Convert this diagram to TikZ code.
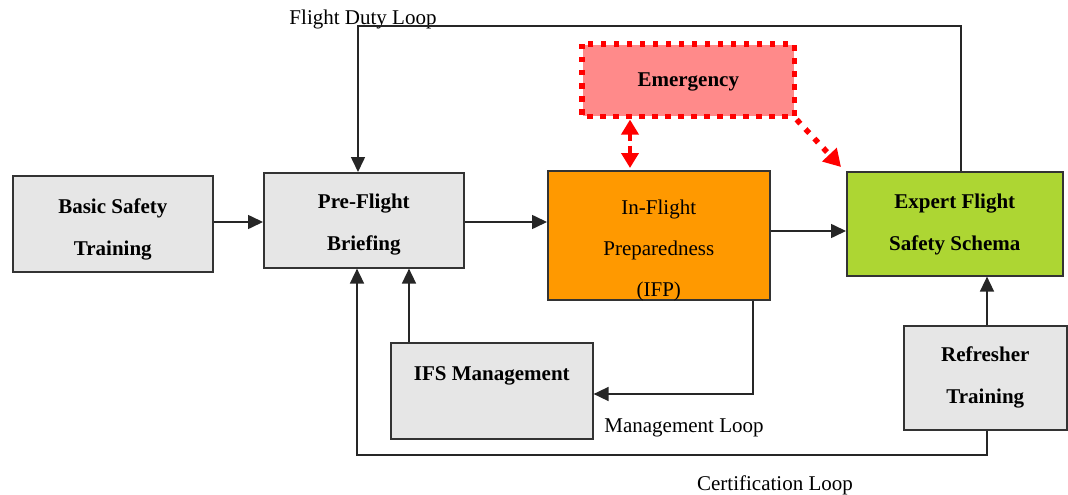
\documentclass[tikz,border=0pt]{standalone}
\usepackage{fontspec}
\setmainfont{Liberation Serif}
\usetikzlibrary{arrows.meta}
\definecolor{boxgray}{HTML}{E6E6E6}
\definecolor{boxline}{HTML}{333333}
\definecolor{ifporange}{HTML}{FF9900}
\definecolor{efsgreen}{HTML}{ADD633}
\definecolor{emgpink}{HTML}{FF8A8A}
\definecolor{emgred}{HTML}{FF0000}
\begin{document}
\begin{tikzpicture}[x=1pt,y=-1pt,
  box/.style={draw=boxline, line width=1.6pt, anchor=north west, inner sep=0pt},
  lbl/.style={font=\fontsize{21}{42}\selectfont\bfseries, align=center, inner sep=0pt},
  rlbl/.style={font=\fontsize{21}{41}\selectfont, align=center, inner sep=0pt},
  looplbl/.style={font=\fontsize{21}{25}\selectfont, anchor=base, inner sep=0pt},
  arr/.style={line width=1.6pt, draw=black!85, -{Triangle[length=15pt,width=14pt]}},
  emdash/.style={draw=emgred, line width=4.5pt, dash pattern=on 7pt off 5pt},
  emdot/.style={draw=emgred, line width=5.5pt, dash pattern=on 5.5pt off 7.5pt}
]
\useasboundingbox (0,0) rectangle (1068,495);

% boxes
\node[box, fill=boxgray, minimum width=200pt, minimum height=96pt] (bst) at (12,175) {};
\node[box, fill=boxgray, minimum width=200pt, minimum height=95pt] (pfb) at (263,172) {};
\node[box, fill=ifporange, minimum width=222pt, minimum height=129pt] (ifp) at (547,170) {};
\node[box, fill=efsgreen, minimum width=216pt, minimum height=104pt] (efs) at (846,171) {};
\node[box, draw=none, fill=emgpink, minimum width=211pt, minimum height=71pt] (emg) at (582,44) {};
\draw[emdot] (emg.north west) rectangle (emg.south east);
\node[box, fill=boxgray, minimum width=202pt, minimum height=96pt] (ifs) at (390,342) {};
\node[box, fill=boxgray, minimum width=163pt, minimum height=104pt] (rft) at (903,325) {};

% box texts
\node[lbl, yshift=-6pt] (bstt) at (bst.center) {Basic Safety\\Training};
\node[lbl, yshift=-4.5pt] (pfbt) at (pfb.center) {Pre-Flight\\Briefing};
\node[rlbl, yshift=-15pt] (ifpt) at (ifp.center) {In-Flight\\Preparedness\\(IFP)};
\node[lbl, yshift=-1pt] (efst) at (efs.center) {Expert Flight\\Safety Schema};
\node[lbl, yshift=-2pt] (emgt) at (emg.center) {Emergency};
\node[lbl, yshift=15pt] (ifst) at (ifs.center) {IFS Management};
\node[lbl] (rftt) at (rft.center) {Refresher\\Training};

% loop labels
\node[looplbl] (fdl) at (363,25) {Flight Duty Loop};
\node[looplbl] (mgl) at (684,432) {Management Loop};
\node[looplbl] (cfl) at (775,490) {Certification Loop};

% main flow
\coordinate (ya) at (0,222);
\coordinate (yb) at (0,231);
\draw[arr] (bst.east |- ya) -- (pfb.west |- ya);
\draw[arr] (pfb.east |- ya) -- (ifp.west |- ya);
\draw[arr] (ifp.east |- yb) -- (efs.west |- yb);

% flight duty loop
\coordinate (fdtop) at (961,26);
\coordinate (fdx) at (358,0);
\draw[arr] (efs.north -| fdtop) -- (fdtop) -| (pfb.north -| fdx);

% management loop
\coordinate (mlc) at (753,394);
\draw[arr] (ifp.south -| mlc) -- (mlc) -- (ifs.east |- mlc);
\coordinate (ifsx) at (409,0);
\draw[arr] (ifs.north -| ifsx) -- (pfb.south -| ifsx);

% refresher / certification loop
\coordinate (rfx) at (987,455);
\draw[arr] (rft.north -| rfx) -- (efs.south -| rfx);
\coordinate (cfx) at (357,0);
\draw[arr] (rft.south -| rfx) -- (rfx) -| (pfb.south -| cfx);

% emergency links
\coordinate (emx) at (630,0);
\draw[emdash, {Triangle[length=15pt,width=17pt]}-{Triangle[length=15pt,width=17pt]}] ([yshift=-3pt]emg.south -| emx) -- ([yshift=2pt]ifp.north -| emx);
\draw[emdot, -{Triangle[length=17pt,width=19pt]}] ([shift={(2pt,-3pt)}]emg.south east) -- ([shift={(-5pt,4pt)}]efs.north west);
\end{tikzpicture}
\end{document}
